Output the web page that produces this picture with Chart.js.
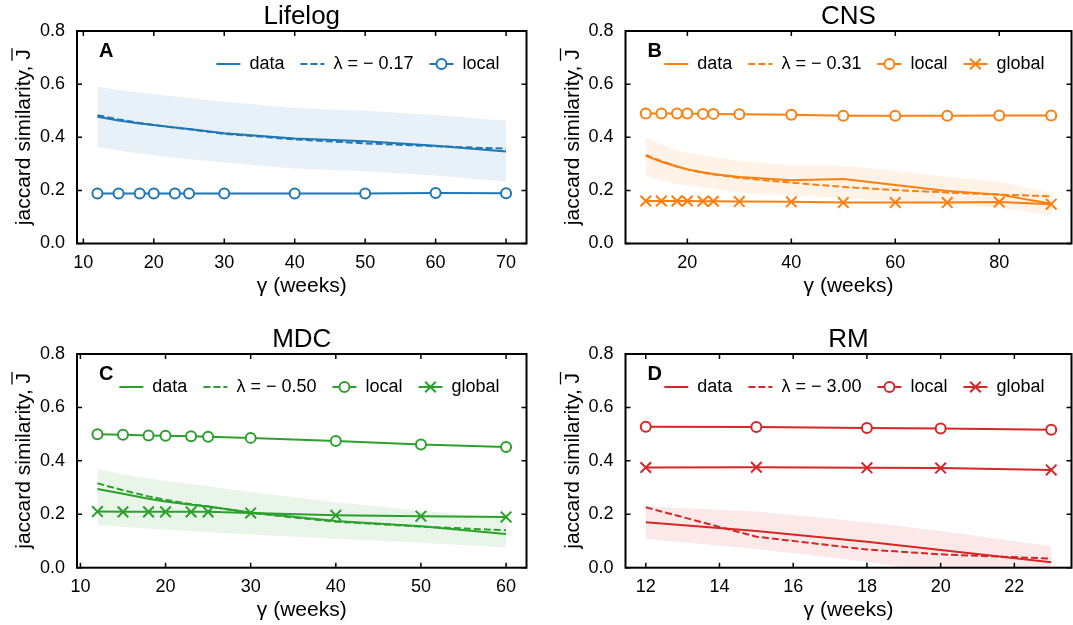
<!DOCTYPE html>
<html>
<head>
<meta charset="utf-8">
<script src="https://cdn.jsdelivr.net/npm/chart.js@4.4.1/dist/chart.umd.min.js"></script>
<style>
html,body{margin:0;padding:0;background:#fff;overflow:hidden}
#wrap{position:relative;width:1073px;height:625px;overflow:hidden;background:#fff}
canvas{position:absolute}
</style>
</head>
<body>
<div id="wrap">
  <canvas id="cA" width="545" height="312" style="left:0;top:0"></canvas>
  <canvas id="cB" width="545" height="312" style="left:536px;top:0"></canvas>
  <canvas id="cC" width="545" height="313" style="left:0;top:312px"></canvas>
  <canvas id="cD" width="545" height="313" style="left:536px;top:312px"></canvas>
</div>
<script>
'use strict';

/* ── DATA ──────────────────────────────────── */
const yTicks = [0, 0.2, 0.4, 0.6, 0.8];

// A: Lifelog
const xA      = [12, 15, 18, 20, 23, 25, 30, 40, 50, 60, 70];
const dataA   = [0.477, 0.463, 0.452, 0.446, 0.437, 0.431, 0.415, 0.395, 0.385, 0.368, 0.346];
const fitA    = [0.483, 0.467, 0.454, 0.446, 0.436, 0.430, 0.413, 0.392, 0.377, 0.366, 0.357];
const localA  = [0.188, 0.188, 0.188, 0.188, 0.188, 0.188, 0.188, 0.188, 0.188, 0.190, 0.189];
const hiA     = [0.590, 0.578, 0.568, 0.562, 0.553, 0.548, 0.534, 0.510, 0.500, 0.484, 0.462];
const loA     = [0.362, 0.350, 0.338, 0.332, 0.322, 0.318, 0.305, 0.282, 0.272, 0.256, 0.233];
const xTicksA = [10, 20, 30, 40, 50, 60, 70];

// B: CNS
const xB      = [12, 15, 18, 20, 23, 25, 30, 40, 50, 60, 70, 80, 90];
const dataB   = [0.330, 0.308, 0.290, 0.279, 0.268, 0.262, 0.250, 0.238, 0.243, 0.220, 0.198, 0.184, 0.150];
const fitB    = [0.333, 0.310, 0.290, 0.279, 0.266, 0.260, 0.247, 0.229, 0.213, 0.201, 0.192, 0.184, 0.178];
const localB  = [0.489, 0.489, 0.489, 0.489, 0.488, 0.488, 0.487, 0.485, 0.481, 0.481, 0.481, 0.482, 0.482];
const globalB = [0.160, 0.160, 0.160, 0.160, 0.159, 0.159, 0.158, 0.157, 0.154, 0.154, 0.154, 0.156, 0.148];
const hiB     = [0.400, 0.372, 0.352, 0.342, 0.332, 0.326, 0.312, 0.295, 0.294, 0.273, 0.250, 0.233, 0.190];
const loB     = [0.256, 0.238, 0.225, 0.218, 0.210, 0.205, 0.192, 0.181, 0.170, 0.160, 0.148, 0.135, 0.106];
const xTicksB = [20, 40, 60, 80];

// C: MDC
const xC      = [12, 15, 18, 20, 23, 25, 30, 40, 50, 60];
const dataC   = [0.295, 0.277, 0.258, 0.248, 0.236, 0.229, 0.207, 0.175, 0.155, 0.126];
const fitC    = [0.316, 0.290, 0.267, 0.254, 0.238, 0.229, 0.205, 0.172, 0.154, 0.140];
const localC  = [0.500, 0.498, 0.495, 0.494, 0.492, 0.490, 0.486, 0.474, 0.461, 0.452];
const globalC = [0.210, 0.209, 0.209, 0.209, 0.209, 0.209, 0.205, 0.196, 0.193, 0.190];
const hiC     = [0.370, 0.350, 0.335, 0.325, 0.313, 0.305, 0.283, 0.245, 0.213, 0.185];
const loC     = [0.160, 0.153, 0.146, 0.142, 0.137, 0.133, 0.124, 0.108, 0.093, 0.076];
const xTicksC = [10, 20, 30, 40, 50, 60];

// D: RM
const xD      = [12, 15, 18, 20, 23];
const dataD   = [0.170, 0.137, 0.097, 0.066, 0.020];
const fitD    = [0.226, 0.116, 0.068, 0.050, 0.034];
const localD  = [0.528, 0.527, 0.523, 0.521, 0.516];
const globalD = [0.375, 0.376, 0.374, 0.373, 0.366];
const hiD     = [0.230, 0.210, 0.170, 0.137, 0.080];
const loD     = [0.107, 0.070, 0.022, -0.015, -0.050];
const xTicksD = [12, 14, 16, 18, 20, 22];

/* ── STYLE ─────────────────────────────────── */
const FONT = '"Liberation Sans", Arial, Helvetica, sans-serif';
Chart.defaults.font.family = FONT;
Chart.defaults.color = '#000';

const panels = [
  { id:'cA', title:'Lifelog', letter:'A', lam:'λ = − 0.17', color:[31,119,180],
    x:xA, data:dataA, fit:fitA, local:localA, global:null, hi:hiA, lo:loA,
    xTicks:xTicksA, xMin:9.1, xMax:72.9, L:77, R:526.5, T:31, B:243.5 },
  { id:'cB', title:'CNS', letter:'B', lam:'λ = − 0.31', color:[255,127,14],
    x:xB, data:dataB, fit:fitB, local:localB, global:globalB, hi:hiB, lo:loB,
    xTicks:xTicksB, xMin:8.1, xMax:93.9, L:89.5, R:538.5, T:31, B:243.5 },
  { id:'cC', title:'MDC', letter:'C', lam:'λ = − 0.50', color:[44,160,44],
    x:xC, data:dataC, fit:fitC, local:localC, global:globalC, hi:hiC, lo:loC,
    xTicks:xTicksC, xMin:9.6, xMax:62.4, L:77, R:526.5, T:42, B:255.7 },
  { id:'cD', title:'RM', letter:'D', lam:'λ = − 3.00', color:[214,39,40],
    x:xD, data:dataD, fit:fitD, local:localD, global:globalD, hi:hiD, lo:loD,
    xTicks:xTicksD, xMin:11.45, xMax:23.55, L:89.5, R:538.5, T:42, B:255.7 },
];

const rgba = (c, a) => `rgba(${c[0]},${c[1]},${c[2]},${a})`;

/* ── DECORATION (frame, ticks, titles, legend) ── */
function drawMarker(ctx, style, x, y, col) {
  ctx.save();
  ctx.setLineDash([]);
  ctx.strokeStyle = col; ctx.lineWidth = 2;
  if (style === 'circle') {
    ctx.fillStyle = '#fff';
    ctx.beginPath(); ctx.arc(x, y, 5, 0, Math.PI*2); ctx.fill(); ctx.stroke();
  } else if (style === 'crossRot') {
    const r = 7.5 * Math.SQRT1_2;
    ctx.beginPath();
    ctx.moveTo(x-r, y-r); ctx.lineTo(x+r, y+r);
    ctx.moveTo(x-r, y+r); ctx.lineTo(x+r, y-r);
    ctx.stroke();
  }
  ctx.restore();
}

function decoPlugin(p) {
  return {
    id: 'deco',
    afterDraw(chart) {
      const {ctx, chartArea:{left, right, top, bottom}, scales:{x, y}} = chart;
      ctx.save();
      // frame
      ctx.strokeStyle = '#000'; ctx.lineWidth = 2; ctx.setLineDash([]);
      ctx.strokeRect(left, top, right-left, bottom-top);
      // inward ticks on all sides
      ctx.lineWidth = 1.5;
      ctx.beginPath();
      p.xTicks.forEach(v => {
        const px = x.getPixelForValue(v);
        ctx.moveTo(px, bottom); ctx.lineTo(px, bottom-5);
        ctx.moveTo(px, top);    ctx.lineTo(px, top+5);
      });
      yTicks.forEach(v => {
        const py = y.getPixelForValue(v);
        ctx.moveTo(left, py);  ctx.lineTo(left+5, py);
        ctx.moveTo(right, py); ctx.lineTo(right-5, py);
      });
      ctx.stroke();

      // panel title
      ctx.fillStyle = '#000';
      ctx.font = '26px ' + FONT;
      ctx.textAlign = 'center'; ctx.textBaseline = 'alphabetic';
      ctx.fillText(p.title, (left+right)/2, top-7);

      // panel letter
      ctx.font = 'bold 20px ' + FONT;
      ctx.textAlign = 'left';
      ctx.fillText(p.letter, left+22, top+26);

      // y axis label with overlined J
      ctx.save();
      ctx.translate(left-47, (top+bottom)/2);
      ctx.rotate(-Math.PI/2);
      ctx.font = '21px ' + FONT;
      const pre = 'jaccard similarity, ', jj = 'J';
      const w1 = ctx.measureText(pre).width, w2 = ctx.measureText(jj).width;
      const x0 = -(w1+w2)/2;
      ctx.textAlign = 'left';
      ctx.fillText(pre + jj, x0, 0);
      ctx.lineWidth = 1.3;
      ctx.beginPath();
      ctx.moveTo(x0+w1-1, -18); ctx.lineTo(x0+w1+w2+1, -18);
      ctx.stroke();
      ctx.restore();

      // legend
      ctx.font = '18px ' + FONT;
      ctx.textBaseline = 'middle'; ctx.textAlign = 'left';
      const items = chart.data.datasets.filter(d => !d.skipLegend);
      const ws = items.map(d => ctx.measureText(d.label).width);
      const H = 24, G = 9, S = 16;
      const total = ws.reduce((a, w) => a + H + G + w, 0) + S*(items.length-1);
      let cx = right - 27 - total;
      const cy = top + 33;
      items.forEach((d, i) => {
        ctx.strokeStyle = d.borderColor; ctx.lineWidth = 2;
        ctx.setLineDash(d.borderDash || []);
        ctx.beginPath(); ctx.moveTo(cx, cy); ctx.lineTo(cx+H, cy); ctx.stroke();
        if (d.pointRadius > 0) drawMarker(ctx, d.pointStyle, cx+H/2, cy, d.borderColor);
        ctx.fillStyle = '#000';
        ctx.fillText(d.label, cx+H+G, cy);
        cx += H + G + ws[i] + S;
      });
      ctx.restore();
    }
  };
}

/* ── BUILD ─────────────────────────────────── */
function makePanel(p) {
  const el = document.getElementById(p.id);
  const W = el.width, Hc = el.height;
  const col = rgba(p.color, 1);
  const xy = ys => p.x.map((v, i) => ({x: v, y: ys[i]}));
  const line = {borderColor: col, borderWidth: 2, pointRadius: 0, pointHitRadius: 0, fill: false};
  const datasets = [
    Object.assign({label:'data', data: xy(p.data)}, line),
    Object.assign({label: p.lam, data: xy(p.fit), borderDash:[7,3]}, line),
    Object.assign({label:'local', data: xy(p.local)}, line,
      {pointRadius:5, pointStyle:'circle', pointBackgroundColor:'#fff', pointBorderColor: col, pointBorderWidth:2}),
  ];
  if (p.global) datasets.push(Object.assign({label:'global', data: xy(p.global)}, line,
      {pointRadius:7.5, pointStyle:'crossRot', pointBorderColor: col, pointBorderWidth:2}));
  datasets.push(
    {label:'lo', data: xy(p.lo), skipLegend:true, borderColor:'rgba(0,0,0,0)', borderWidth:0, pointRadius:0, fill:false},
    {label:'hi', data: xy(p.hi), skipLegend:true, borderColor:'rgba(0,0,0,0)', borderWidth:0, pointRadius:0, fill:'-1', backgroundColor: rgba(p.color, 0.1)}
  );
  const titleLH = 21*1.2;
  new Chart(el, {
    type: 'line',
    data: { datasets },
    options: {
      responsive: false, animation: false, events: [], devicePixelRatio: 1,
      layout: { padding: { left: 0, top: p.T, right: W - p.R, bottom: 0 } },
      plugins: { legend:{display:false}, tooltip:{enabled:false}, filler:{drawTime:'beforeDatasetsDraw'} },
      scales: {
        x: {
          type:'linear', min:p.xMin, max:p.xMax,
          afterBuildTicks: s => { s.ticks = p.xTicks.map(v => ({value:v})); },
          afterFit: s => { s.height = Hc - p.B; },
          grid:{display:false, drawTicks:false}, border:{display:false},
          ticks:{font:{size:18}, padding:9, maxRotation:0, callback: v => String(v)},
          title:{display:true, text:'γ (weeks)', font:{size:21}, padding:{top:0, bottom: Hc - (p.B + 43) - titleLH/2}}
        },
        y: {
          min:0, max:0.8,
          afterBuildTicks: s => { s.ticks = yTicks.map(v => ({value:v})); },
          afterFit: s => { s.width = p.L; },
          grid:{display:false, drawTicks:false}, border:{display:false},
          ticks:{font:{size:18}, padding:12, callback: v => v.toFixed(1)}
        }
      }
    },
    plugins: [decoPlugin(p)]
  });
}

panels.forEach(makePanel);
</script>
</body>
</html>
